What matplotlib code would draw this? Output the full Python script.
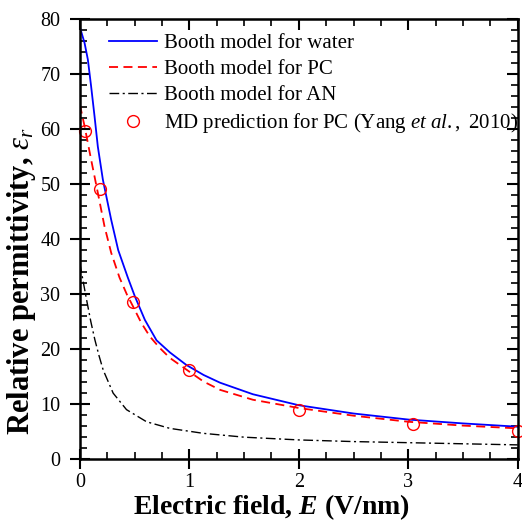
import matplotlib
matplotlib.use("Agg")
import matplotlib.pyplot as plt
from matplotlib.ticker import MultipleLocator

plt.rcParams['font.family'] = ['Liberation Serif', 'DejaVu Serif']
plt.rcParams['mathtext.fontset'] = 'custom'
plt.rcParams['mathtext.rm'] = 'Liberation Serif'
plt.rcParams['mathtext.it'] = 'Liberation Serif:italic'
plt.rcParams['mathtext.bf'] = 'Liberation Serif:bold'
plt.rcParams['mathtext.bfit'] = 'Liberation Serif:italic:bold'

# values
water_E = [0, 0.043, 0.073, 0.103, 0.134, 0.164, 0.21, 0.286, 0.35, 0.438,
           0.502, 0.594, 0.70, 0.822, 0.974, 1.13, 1.28, 1.58, 2.0, 2.5,
           3.0, 3.5, 4.0]
water_eps = [78.5, 75.6, 72.6, 67.7, 62.3, 56.8, 50.8, 43.5, 38.0, 33.0,
             29.6, 25.3, 21.6, 19.4, 17.1, 15.3, 13.9, 11.8, 9.8, 8.3,
             7.2, 6.5, 5.9]

pc_E = [0, 0.043, 0.103, 0.164, 0.225, 0.286, 0.362, 0.43, 0.487, 0.56,
        0.639, 0.73, 0.822, 1.0, 1.13, 1.28, 1.58, 2.0, 2.5, 3.0, 3.5, 4.0]
pc_eps = [64.4, 60.5, 54.4, 48.4, 42.3, 37.5, 33.0, 29.9, 27.7, 24.8,
          22.3, 20.2, 18.4, 15.9, 14.1, 12.6, 10.8, 9.3, 7.9, 6.8, 6.1, 5.6]

an_E = [0, 0.03, 0.061, 0.1, 0.137, 0.175, 0.213, 0.304, 0.426, 0.609,
        0.822, 1.126, 1.5, 2.0, 2.5, 3.0, 3.5, 4.0]
an_eps = [35.6, 32.3, 29.0, 25.0, 21.7, 18.8, 16.2, 12.0, 9.0, 6.8,
          5.6, 4.7, 4.0, 3.5, 3.2, 3.0, 2.8, 2.6]

md_E = [0.05, 0.183, 0.488, 1.0, 2.0, 3.04, 4.0]
md_eps = [59.6, 49.1, 28.5, 16.2, 9.0, 6.4, 5.2]

fig = plt.figure(figsize=(5.22, 5.23), dpi=100)
ax = fig.add_axes([0.153, 0.122, 0.839, 0.842])

ax.plot(water_E, water_eps, color='blue', lw=1.3, label='Booth model for water')
ax.plot(pc_E, pc_eps, color='red', lw=1.3, ls=(0, (5, 3)), label='Booth model for PC')
ax.plot(an_E, an_eps, color='black', lw=1.0, ls=(0, (7, 2.5, 1.5, 2.5)),
        label='Booth model for AN')
ax.plot(md_E, md_eps, 'o', mfc='none', mec='red', ms=8.5, mew=1.0, clip_on=False,
        label=r'MD prediction for PC (Yang $\mathit{et\ al.,}$ 2010)')

ax.set_xlim(0, 4)
ax.set_ylim(0, 80)
ax.xaxis.set_major_locator(MultipleLocator(1))
ax.xaxis.set_minor_locator(MultipleLocator(0.25))
ax.yaxis.set_major_locator(MultipleLocator(10))
ax.yaxis.set_minor_locator(MultipleLocator(2))
ax.tick_params(which='major', direction='inout', length=14, width=1.5,
               labelsize=14.5)
ax.tick_params(axis='y', which='major', pad=7)
ax.tick_params(axis='x', which='major', pad=3)
ax.tick_params(which='minor', direction='in', length=5, width=1.2)
for s in ax.spines.values():
    s.set_linewidth(1.8)

# top and right ticks pointing inward
top = ax.secondary_xaxis('top')
top.xaxis.set_major_locator(MultipleLocator(1))
top.xaxis.set_minor_locator(MultipleLocator(0.25))
top.tick_params(which='major', direction='in', length=8, width=1.5, labeltop=False)
top.tick_params(which='minor', direction='in', length=5, width=1.2)
right = ax.secondary_yaxis('right')
right.yaxis.set_major_locator(MultipleLocator(10))
right.yaxis.set_minor_locator(MultipleLocator(2))
right.tick_params(which='major', direction='in', length=8, width=1.5, labelright=False)
right.tick_params(which='minor', direction='in', length=5, width=1.2)

ax.set_xlabel(r'Electric field, $\mathbfit{E}$ (V/nm)', fontsize=20, fontweight='bold')
ax.set_ylabel(r'Relative permittivity, $\varepsilon_r$', fontsize=22, fontweight='bold')
ax.xaxis.set_label_coords(0.438, -0.074)
ax.yaxis.set_label_coords(-0.095, 0.405)

ax.legend(loc='upper right', frameon=False, fontsize=15, handlelength=2.3,
          handletextpad=0.35, labelspacing=0.3, borderaxespad=0.0,
          bbox_to_anchor=(1.02, 0.985))

fig.savefig('out.png', dpi=100)
